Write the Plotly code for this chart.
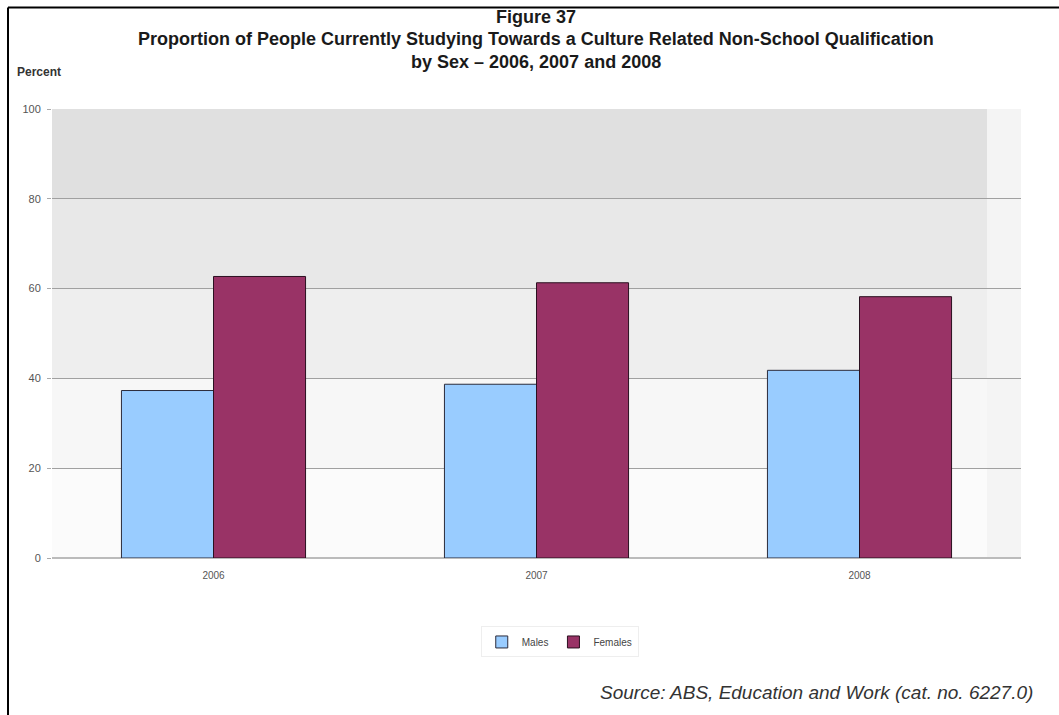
import plotly.graph_objects as go

years = ["2006", "2007", "2008"]
males = [37.3, 38.7, 41.8]
females = [62.7, 61.3, 58.2]
y_ticks = [0, 20, 40, 60, 80, 100]
title_lines = [
    "Figure 37",
    "Proportion of People Currently Studying Towards a Culture Related Non-School Qualification",
    "by Sex – 2006, 2007 and 2008",
]

fig = go.Figure()
fig.add_trace(go.Bar(x=years, y=males, name="Males",
                     marker=dict(color="#99ccff", line=dict(color="#2b2b3b", width=1))))
fig.add_trace(go.Bar(x=years, y=females, name="Females",
                     marker=dict(color="#993366", line=dict(color="#2b1020", width=1))))

# soft background bands (gradient-like plot area)
bands = [(80, 100, "#e0e0e0"), (60, 80, "#e8e8e8"), (40, 60, "#eeeeee"),
         (20, 40, "#f7f7f7"), (0, 20, "#fbfbfb")]
for y0, y1, c in bands:
    fig.add_shape(type="rect", xref="paper", yref="y", x0=0, x1=0.965, y0=y0, y1=y1,
                  fillcolor=c, line=dict(width=0), layer="below")
fig.add_shape(type="rect", xref="paper", yref="y", x0=0.965, x1=1, y0=0, y1=100,
              fillcolor="#f4f4f4", line=dict(width=0), layer="below")

# figure frame (left and top)
fig.add_shape(type="line", xref="paper", yref="paper", x0=-0.0454, x1=1.05, y0=1.226, y1=1.226,
              line=dict(color="black", width=2))
fig.add_shape(type="line", xref="paper", yref="paper", x0=-0.0454, x1=-0.0454, y0=1.226, y1=-0.4,
              line=dict(color="black", width=2))

title_y = [1.206, 1.1548, 1.1036]
annotations = []
for txt, ty in zip(title_lines, title_y):
    annotations.append(dict(text="<b>" + txt + "</b>", xref="paper", yref="paper", x=0.4995, y=ty,
                            xanchor="center", yanchor="middle", showarrow=False,
                            font=dict(family="Liberation Sans, Arial", size=18, color="#1a1a1a")))
annotations += [
    dict(text="<b>Percent</b>", xref="paper", yref="paper", x=-0.0382, y=1.0813,
         xanchor="left", yanchor="middle", showarrow=False, font=dict(size=12, color="#333")),
    dict(text="<i>Source: ABS, Education and Work (cat. no. 6227.0)</i>", xref="paper", yref="paper",
         x=1.0145, y=-0.300, xanchor="right", yanchor="middle", showarrow=False,
         font=dict(size=19, color="#333")),
]

fig.update_layout(
    width=1059, height=715,
    margin=dict(l=52, r=38, t=109, b=157),
    paper_bgcolor="white", plot_bgcolor="white",
    barmode="group", bargap=0.43, bargroupgap=0,
    font=dict(family="Liberation Sans, Arial", color="#333"),
    xaxis=dict(showgrid=False, showline=False, ticks="", ticklabelstandoff=10,
               tickfont=dict(size=10, color="#555")),
    yaxis=dict(range=[0, 100], tickvals=y_ticks, showgrid=True, gridcolor="#a0a0a0", gridwidth=1,
               zeroline=True, zerolinecolor="#bbbbbb", tickfont=dict(size=11, color="#555"),
               ticks="outside", ticklen=4, tickcolor="#aaa", ticklabelstandoff=4),
    legend=dict(orientation="h", x=0.524, xanchor="center", y=-0.187, yanchor="middle",
                font=dict(size=10, color="#444"), bgcolor="white",
                itemwidth=30, bordercolor="#eeeeee", borderwidth=1),
    annotations=annotations,
)

fig.write_html("out.html", config={"displayModeBar": False},
               post_script="document.body.style.margin='0';document.body.style.overflow='hidden';")
